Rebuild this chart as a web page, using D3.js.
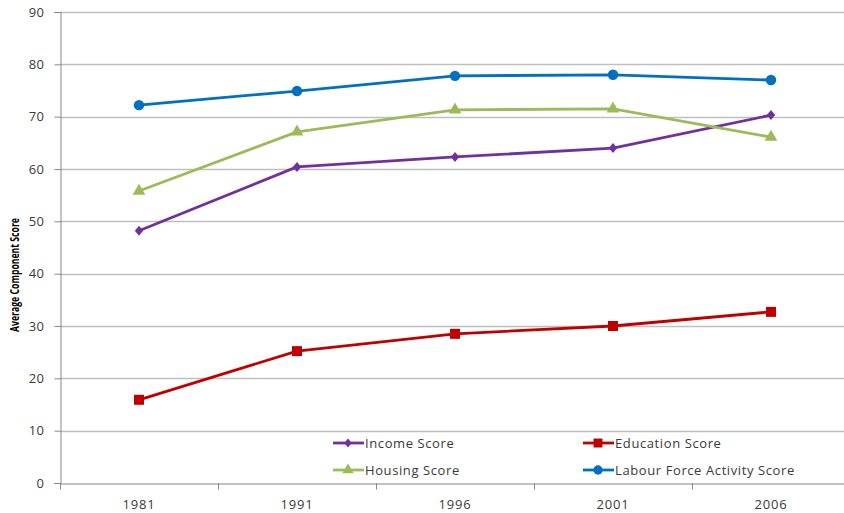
<!DOCTYPE html>
<html><head><meta charset="utf-8">
<script src="https://cdn.jsdelivr.net/npm/d3@7"></script>
<style>body{margin:0;background:#fff;}svg{display:block;}</style>
</head><body><svg id="c" width="844" height="513"></svg>
<script>
const years = ["1981","1991","1996","2001","2006"];
const incomeScore = [48.2, 60.4, 62.3, 64.0, 70.3];
const educationScore = [15.9, 25.2, 28.5, 30.0, 32.7];
const housingScore = [55.8, 67.1, 71.3, 71.5, 66.1];
const labourScore = [72.2, 74.9, 77.8, 78.0, 77.0];
const yTicks = [0,10,20,30,40,50,60,70,80,90];
const seriesNames = ["Income Score","Education Score","Housing Score","Labour Force Activity Score"];

const wideDiamond = {
  draw(ctx, size) {
    const r = Math.sqrt(size) / 2;
    const w = r * 1.0, h = r * 1.2;
    ctx.moveTo(0, -h); ctx.lineTo(w, 0); ctx.lineTo(0, h); ctx.lineTo(-w, 0); ctx.closePath();
  }
};

const series = [
  {name: seriesNames[0], values: incomeScore, color: "#7030A0", sym: wideDiamond, size: 70},
  {name: seriesNames[1], values: educationScore, color: "#C00000", sym: d3.symbolSquare, size: 100},
  {name: seriesNames[2], values: housingScore, color: "#9BBB59", sym: d3.symbolTriangle, size: 70},
  {name: seriesNames[3], values: labourScore, color: "#0070C0", sym: d3.symbolCircle, size: 85}
];

const svg = d3.select("#c");
const x = d3.scaleBand().domain(years).range([60, 850]);
const y = d3.scaleLinear().domain([0, 90]).range([483, 12]);
const font = "'Open Sans', 'Liberation Sans', sans-serif";
const textColor = "#3a3a3a";

// gridlines
svg.append("g").selectAll("line").data(yTicks.slice(1)).join("line")
  .attr("x1", 60).attr("x2", 844)
  .attr("y1", d => Math.round(y(d)) + 0.5).attr("y2", d => Math.round(y(d)) + 0.5)
  .attr("stroke", "#BFBFBF").attr("stroke-width", 1.3);

// y axis
const yAxis = svg.append("g").attr("transform", "translate(60.5,0)")
  .call(d3.axisLeft(y).tickValues(yTicks).tickSize(6).tickPadding(10));
yAxis.select(".domain").attr("stroke", "#868686");
yAxis.selectAll(".tick line").attr("stroke", "#868686");
yAxis.selectAll(".tick text").attr("fill", textColor).style("font-family", font)
  .style("font-size", "13px").style("letter-spacing", "0.5px");

// x axis
const xAxis = svg.append("g").attr("transform", `translate(0,${Math.round(y(0)) + 0.5})`)
  .call(d3.axisBottom(x).tickSize(0).tickPadding(16));
xAxis.select(".domain").attr("stroke", "#868686");
xAxis.selectAll(".tick text").attr("fill", textColor).style("font-family", font)
  .style("font-size", "13px").style("letter-spacing", "0.8px");
// category boundary ticks
xAxis.append("g").selectAll("line").data(years).join("line")
  .attr("x1", d => Math.round(x(d)) + 0.5).attr("x2", d => Math.round(x(d)) + 0.5)
  .attr("y1", 0).attr("y2", 6).attr("stroke", "#868686");

// y title
svg.append("text").attr("transform", "translate(19,275) rotate(-90)")
  .attr("text-anchor", "middle").attr("fill", "#000")
  .attr("textLength", 114).attr("lengthAdjust", "spacingAndGlyphs")
  .style("font-family", font).style("font-size", "11.5px").style("font-weight", "bold")
  .text("Average Component Score");

const cx = d => x(d) + x.bandwidth() / 2;
const line = d3.line().x(d => cx(d.year)).y(d => y(d.v));

series.forEach(s => {
  const pts = years.map((yr, i) => ({year: yr, v: s.values[i]}));
  svg.append("path").datum(pts).attr("d", line).attr("fill", "none")
    .attr("stroke", s.color).attr("stroke-width", 2.8).attr("stroke-linejoin", "round");
  svg.append("g").selectAll("path").data(pts).join("path")
    .attr("transform", d => `translate(${cx(d.year)},${y(d.v)})`)
    .attr("d", d3.symbol().type(s.sym).size(s.size)).attr("fill", s.color);
});

// legend
const legendPos = [[333, 443], [583, 443], [333, 470], [583, 470]];
series.forEach((s, i) => {
  const [lx, ly] = legendPos[i];
  const g = svg.append("g").attr("transform", `translate(${lx},${ly})`);
  g.append("line").attr("x1", 0).attr("x2", 31).attr("y1", 0).attr("y2", 0)
    .attr("stroke", s.color).attr("stroke-width", 2.8);
  g.append("path").attr("transform", "translate(15,0)")
    .attr("d", d3.symbol().type(s.sym).size(s.size * 0.8)).attr("fill", s.color);
  g.append("text").attr("x", 32).attr("y", 4.5).attr("fill", textColor)
    .style("font-family", font).style("font-size", "13px").style("letter-spacing", "0.6px")
    .text(s.name);
});
</script></body></html>
